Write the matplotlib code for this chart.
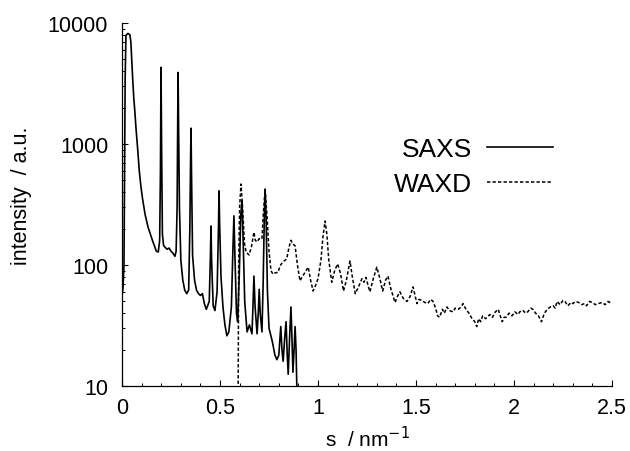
import matplotlib
matplotlib.use("Agg")
import matplotlib.pyplot as plt
from matplotlib.ticker import FixedLocator, NullFormatter

plt.rcParams['font.family'] = ['Liberation Sans', 'DejaVu Sans']

# SAXS trace (s in nm^-1, intensity in a.u.)
saxs_s = [0.0, 0.005, 0.01, 0.013, 0.016, 0.02, 0.03, 0.04, 0.045, 0.05, 0.055,
          0.06, 0.066, 0.072, 0.08, 0.088, 0.096, 0.105, 0.118, 0.133, 0.155,
          0.175, 0.185, 0.192, 0.196,
          0.199, 0.202, 0.206, 0.212, 0.22, 0.23, 0.24, 0.25, 0.26, 0.27, 0.276,
          0.281, 0.284, 0.286, 0.289, 0.293, 0.3, 0.31, 0.32, 0.33, 0.34, 0.346,
          0.35, 0.352, 0.355, 0.36, 0.37, 0.38, 0.39, 0.4, 0.41, 0.42, 0.43,
          0.445, 0.451, 0.454, 0.457, 0.465, 0.474, 0.485, 0.492, 0.495, 0.498,
          0.505, 0.515, 0.525, 0.535, 0.545, 0.558, 0.566, 0.571, 0.576, 0.584,
          0.59, 0.598, 0.606, 0.612, 0.618, 0.626, 0.638, 0.65, 0.663, 0.668,
          0.673, 0.679, 0.689, 0.695, 0.70, 0.705, 0.714, 0.72, 0.726, 0.73,
          0.735, 0.742, 0.75, 0.765, 0.77, 0.78, 0.79, 0.8, 0.81, 0.816, 0.822,
          0.83, 0.837, 0.843, 0.848, 0.855, 0.862, 0.867, 0.872, 0.878, 0.883,
          0.888, 0.893]
saxs_i = [55, 65, 100, 600, 3500, 7900, 8200, 8000, 7000, 4800, 3300,
          2400, 1800, 1300, 900, 600, 450, 350, 260, 205, 160,
          130, 128, 160, 600,
          4300, 900, 180, 145, 140, 135, 138, 130, 125, 118, 130,
          300, 1500, 3900, 1200, 300, 110, 75, 62, 58, 62, 200,
          800, 1350, 500, 120, 75, 62, 58, 56, 58, 48, 43,
          50, 120, 210, 110, 46, 42, 60, 200, 410, 220,
          80, 45, 32, 26, 28, 45, 140, 255, 120, 40,
          34, 80, 260, 340, 160, 50, 28, 32, 27, 45,
          81, 45, 27, 40, 63, 40, 28, 70, 250, 420,
          250, 60, 30, 24, 22, 18, 16.5, 18, 31, 20, 16,
          25, 34, 18, 12.5, 25, 45, 25, 13, 20, 31,
          20, 8]

# WAXD trace
waxd_s = [0.592, 0.595, 0.6, 0.607, 0.615, 0.625, 0.633, 0.648, 0.66, 0.673,
          0.68, 0.689, 0.7, 0.714, 0.72, 0.73, 0.74, 0.75, 0.76, 0.77, 0.78,
          0.796, 0.806, 0.82, 0.84, 0.852, 0.862, 0.87, 0.883, 0.895, 0.908,
          0.92, 0.934, 0.95, 0.962, 0.975, 0.988, 1.0, 1.015, 1.025, 1.036,
          1.045, 1.055, 1.07, 1.085, 1.10, 1.115, 1.13, 1.145, 1.163, 1.175,
          1.19, 1.205, 1.224, 1.235, 1.245, 1.255, 1.265, 1.28, 1.30, 1.315,
          1.33, 1.345, 1.357, 1.37, 1.393, 1.405, 1.418, 1.435, 1.454, 1.47,
          1.485, 1.495, 1.505, 1.515, 1.53, 1.545, 1.56, 1.575, 1.587, 1.60,
          1.61, 1.62, 1.635, 1.645, 1.658, 1.67, 1.69, 1.70, 1.715, 1.73, 1.74,
          1.755, 1.77, 1.786, 1.80, 1.81, 1.82, 1.83, 1.84, 1.855, 1.877, 1.89,
          1.905, 1.92, 1.93, 1.94, 1.95, 1.96, 1.975, 1.99, 2.005, 2.02, 2.035,
          2.046, 2.06, 2.07, 2.085, 2.097, 2.11, 2.125, 2.14, 2.155, 2.17, 2.185,
          2.2, 2.21, 2.22, 2.235, 2.25, 2.26, 2.275, 2.29, 2.30, 2.315, 2.33,
          2.345, 2.36, 2.37, 2.385, 2.40, 2.415, 2.43, 2.45, 2.465, 2.48, 2.5]
waxd_i = [5, 100, 300, 467, 300, 150, 128, 121, 140, 187,
          160, 155, 165, 164, 250, 425, 250, 130, 90, 84, 86,
          87, 98, 106, 112, 140, 160, 150, 144, 100, 74,
          80, 87, 96, 75, 61, 68, 77, 110, 170, 231,
          180, 110, 72, 90, 102, 85, 61, 75, 108, 80,
          58, 65, 77, 72, 79, 68, 60, 75, 96, 78,
          61, 75, 81, 65, 49, 55, 60, 53, 50, 55,
          66, 56, 48, 52, 51, 49, 48, 52, 50, 44,
          38, 37, 43, 40, 45, 42, 41, 44, 43, 45, 48,
          43, 40, 36, 34, 31, 36, 34, 38, 36, 39, 37,
          41, 43, 38, 34, 37, 37, 40, 38, 41, 39, 42,
          42, 40, 41, 44, 43, 40, 38, 34, 40, 43, 45,
          46, 44, 50, 47, 51, 50, 46, 49, 48, 50, 49,
          47, 48, 46, 50, 49, 47, 48, 49, 47, 50, 48]

fig = plt.figure(figsize=(6.3, 4.52), dpi=100)
ax = fig.add_axes([0.1937, 0.1438, 0.7777, 0.8031])

ax.plot(saxs_s, saxs_i, color='black', lw=1.2, label='SAXS')
ax.plot(waxd_s, waxd_i, color='black', lw=1.1, dashes=(2.2, 1.4), label='WAXD')

ax.set_yscale('log')
ax.set_xlim(0, 2.5)
ax.set_ylim(10, 10000)
ax.set_xticks([0, 0.5, 1, 1.5, 2, 2.5])
ax.set_xticklabels(['0', '0.5', '1', '1.5', '2', '2.5'])
ax.xaxis.set_minor_locator(FixedLocator([i * 0.1 for i in range(26)]))
ax.set_yticks([10, 100, 1000, 10000])
ax.set_yticklabels(['10', '100', '1000', '10000'])
ax.yaxis.set_minor_formatter(NullFormatter())

for side in ['top', 'right']:
    ax.spines[side].set_visible(False)
for side in ['left', 'bottom']:
    ax.spines[side].set_linewidth(0.9)

ax.tick_params(which='major', direction='in', length=4.5, width=0.8, labelsize=15.5)
ax.tick_params(which='minor', direction='in', length=2.5, width=0.7)
ax.tick_params(axis='y', which='major', pad=10)
ax.tick_params(axis='x', which='major', pad=8)

ax.set_xlabel('s  / nm$^{-1}$', fontsize=15, labelpad=5)
ax.set_ylabel('intensity  / a.u.', fontsize=15.5)
ax.yaxis.set_label_coords(-0.184, 0.526)

ax.legend(loc='upper right', bbox_to_anchor=(553 / 630, 1 - 138 / 452),
          bbox_transform=fig.transFigure, frameon=False, markerfirst=False,
          fontsize=19, handlelength=2.5, handletextpad=0.55, labelspacing=0.42,
          borderpad=0, borderaxespad=0)

fig.savefig('out.png', dpi=100)
